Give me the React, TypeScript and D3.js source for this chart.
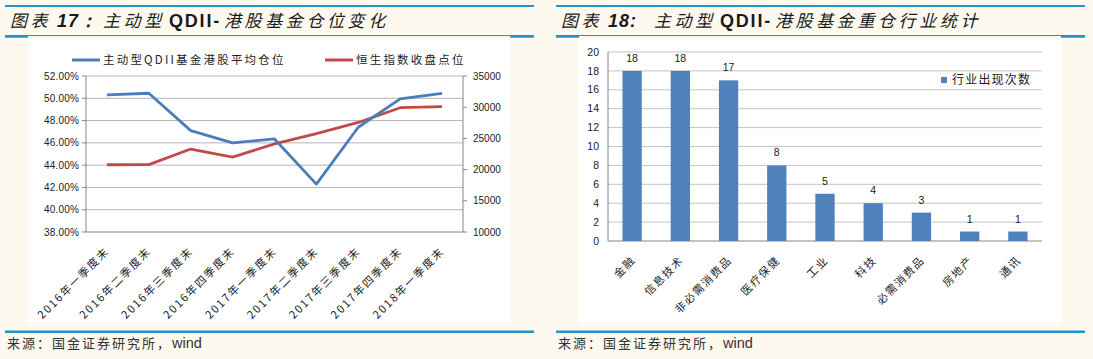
import React, { useEffect, useRef } from 'react';
import * as d3 from 'd3';

// 图表17 data
const quarters = ['2016年一季度末', '2016年二季度末', '2016年三季度末', '2016年四季度末', '2017年一季度末', '2017年二季度末', '2017年三季度末', '2017年四季度末', '2018年一季度末'];
const fundPosition = [50.3, 50.45, 47.1, 46.0, 46.35, 42.3, 47.4, 49.95, 50.45];
const hsiClose = [20776, 20794, 23297, 22001, 24112, 25765, 27555, 29919, 30093];
const positionTicks = [38, 40, 42, 44, 46, 48, 50, 52];
const hsiTicks = [10000, 15000, 20000, 25000, 30000, 35000];
const lineNames = ['主动型QDII基金港股平均仓位', '恒生指数收盘点位'];

// 图表18 data
const industries = ['金融', '信息技术', '非必需消费品', '医疗保健', '工业', '科技', '必需消费品', '房地产', '通讯'];
const industryCounts = [18, 18, 17, 8, 5, 4, 3, 1, 1];
const countTicks = [0, 2, 4, 6, 8, 10, 12, 14, 16, 18, 20];
const barName = '行业出现次数';

const BLUE = '#4a7ebb';
const RED = '#be4b48';
const BAR = '#4f81bd';
const FRAME = '#2394c9';
const AXIS = '#868686';
const GRID = '#b4b4b4';
const CJK = '"Noto Sans CJK SC", sans-serif';
const LATIN = '"Liberation Sans", Arial, sans-serif';

const App = () => {
    const ref = useRef<SVGSVGElement>(null);

    useEffect(() => {
        const svg = d3.select(ref.current);
        svg.selectAll('*').remove();

        svg.append('rect').attr('width', 1093).attr('height', 359).attr('fill', '#fdf9ef');

        // frames: title rules, white panel, bottom rule, source line
        const frame = (dx, srcX) => {
            svg.append('rect').attr('x', 28 + dx).attr('y', 40).attr('width', 482).attr('height', 283).attr('fill', '#fff');
            svg.append('line').attr('x1', 5 + dx).attr('x2', 534 + dx).attr('y1', 6).attr('y2', 6)
                .attr('stroke', FRAME).attr('stroke-width', 2);
            svg.append('line').attr('x1', 5 + dx).attr('x2', 534 + dx).attr('y1', 35.5).attr('y2', 35.5)
                .attr('stroke', FRAME).attr('stroke-width', 1.2);
            [[5, 28], [510, 534]].forEach(([a, b]) => {
                svg.append('line').attr('x1', a + dx).attr('x2', b + dx).attr('y1', 36.5).attr('y2', 36.5)
                    .attr('stroke', FRAME).attr('stroke-width', 2.5);
            });
            svg.append('line').attr('x1', 5 + dx).attr('x2', 534 + dx).attr('y1', 331.8).attr('y2', 331.8)
                .attr('stroke', FRAME).attr('stroke-width', 2.6);
            const src = svg.append('text').attr('x', srcX).attr('y', 348).attr('fill', '#333');
            src.append('tspan').attr('font-family', CJK).attr('font-size', 13).attr('letter-spacing', 2)
                .text('来源：国金证券研究所，');
            src.append('tspan').attr('font-family', LATIN).attr('font-size', 14.5).text('wind');
        };
        frame(0, 7);
        frame(551, 558);

        // titles
        const title = (dx, num, rest) => {
            const t = svg.append('text').attr('y', 27).attr('fill', '#1a1a1a').attr('font-style', 'italic');
            const cjk = (x, s) => t.append('tspan').attr('x', x + dx).attr('font-family', CJK)
                .attr('font-size', 17).attr('letter-spacing', 3.6).text(s);
            cjk(10, '图表');
            t.append('tspan').attr('x', 57 + dx).attr('font-family', LATIN).attr('font-weight', 'bold')
                .attr('font-size', 18).attr('letter-spacing', 1).text(num);
            cjk(103, '主动型');
            t.append('tspan').attr('x', 169 + dx).attr('font-family', LATIN).attr('font-weight', 'bold')
                .attr('font-style', 'normal').attr('font-size', 18).attr('letter-spacing', 1.8).text('QDII-');
            cjk(224, rest);
        };
        title(0, '17：', '港股基金仓位变化');
        title(551, '18:', '港股基金重仓行业统计');

        // ---------- 图表17 ----------
        const x = d3.scaleBand().domain(quarters).range([86, 463]);
        const cx = d => x(d) + x.bandwidth() / 2;
        const yL = d3.scaleLinear().domain([38, 52]).range([232, 76]);
        const yR = d3.scaleLinear().domain([10000, 35000]).range([232, 76]);

        const g1 = svg.append('g');
        positionTicks.forEach(t => {
            g1.append('line').attr('x1', 86).attr('x2', 463).attr('y1', yL(t)).attr('y2', yL(t))
                .attr('stroke', t === 38 ? AXIS : GRID).attr('stroke-width', 1);
            g1.append('line').attr('x1', 82).attr('x2', 86).attr('y1', yL(t)).attr('y2', yL(t)).attr('stroke', AXIS);
            g1.append('text').attr('x', 79).attr('y', yL(t)).attr('dy', '0.35em').attr('text-anchor', 'end')
                .attr('font-family', LATIN).attr('font-size', 10).attr('letter-spacing', 0.2).attr('fill', '#222')
                .text(t.toFixed(2) + '%');
        });
        hsiTicks.forEach(t => {
            g1.append('line').attr('x1', 463).attr('x2', 467).attr('y1', yR(t)).attr('y2', yR(t)).attr('stroke', AXIS);
            g1.append('text').attr('x', 473).attr('y', yR(t)).attr('dy', '0.35em')
                .attr('font-family', LATIN).attr('font-size', 10).attr('fill', '#222').text(t);
        });
        g1.append('line').attr('x1', 86).attr('x2', 86).attr('y1', 76).attr('y2', 232).attr('stroke', AXIS);
        g1.append('line').attr('x1', 463).attr('x2', 463).attr('y1', 76).attr('y2', 232).attr('stroke', AXIS);

        const lineL = d3.line<number>().x((d, i) => cx(quarters[i])).y(d => yL(d));
        const lineR = d3.line<number>().x((d, i) => cx(quarters[i])).y(d => yR(d));
        g1.append('path').attr('d', lineR(hsiClose)).attr('fill', 'none').attr('stroke', RED)
            .attr('stroke-width', 2.8).attr('stroke-linejoin', 'round');
        g1.append('path').attr('d', lineL(fundPosition)).attr('fill', 'none').attr('stroke', BLUE)
            .attr('stroke-width', 2.8).attr('stroke-linejoin', 'round');

        quarters.forEach(q => {
            g1.append('text').attr('transform', `translate(${cx(q) + 3},252) rotate(-45)`)
                .attr('text-anchor', 'end').attr('font-family', CJK).attr('font-size', 11)
                .attr('letter-spacing', 1.8).attr('fill', '#222').text(q);
        });

        // legend
        [[72, 103, BLUE], [325, 356, RED]].forEach(([lx, tx, c], i) => {
            g1.append('line').attr('x1', lx).attr('x2', lx + 28).attr('y1', 60).attr('y2', 60)
                .attr('stroke', c).attr('stroke-width', 3);
            g1.append('text').attr('x', tx).attr('y', 60).attr('dy', '0.36em').attr('font-family', CJK)
                .attr('font-size', 11.5).attr('letter-spacing', 2.2).attr('fill', '#222').text(lineNames[i]);
        });

        // ---------- 图表18 ----------
        const xb = d3.scaleBand().domain(industries).range([608, 1042]).paddingInner(0.6).paddingOuter(0.3);
        const bx = d => xb(d) + xb.bandwidth() / 2;
        const yb = d3.scaleLinear().domain([0, 20]).range([241, 52]);
        const g2 = svg.append('g');

        countTicks.forEach(t => {
            g2.append('line').attr('x1', 608).attr('x2', 1042).attr('y1', yb(t)).attr('y2', yb(t))
                .attr('stroke', t === 0 ? AXIS : '#c4c4c4').attr('stroke-width', 1);
            g2.append('text').attr('x', 599).attr('y', yb(t)).attr('dy', '0.35em').attr('text-anchor', 'end')
                .attr('font-family', LATIN).attr('font-size', 10.5).attr('fill', '#222').text(t);
        });
        g2.append('line').attr('x1', 608).attr('x2', 608).attr('y1', 52).attr('y2', 241).attr('stroke', AXIS);

        g2.selectAll('rect.bar')
            .data(industryCounts)
            .enter()
            .append('rect')
            .attr('class', 'bar')
            .attr('x', (d, i) => xb(industries[i]))
            .attr('y', d => yb(d))
            .attr('width', xb.bandwidth())
            .attr('height', d => yb(0) - yb(d))
            .attr('fill', BAR);

        g2.selectAll('text.val')
            .data(industryCounts)
            .enter()
            .append('text')
            .attr('class', 'val')
            .attr('x', (d, i) => bx(industries[i]))
            .attr('y', d => yb(d) - 9)
            .attr('text-anchor', 'middle')
            .attr('font-family', LATIN).attr('font-size', 10.5).attr('fill', '#1a1a1a')
            .text(d => d);

        industries.forEach(c => {
            g2.append('text').attr('transform', `translate(${bx(c) + 4},261) rotate(-45)`)
                .attr('text-anchor', 'end').attr('font-family', CJK).attr('font-size', 11)
                .attr('letter-spacing', 1.5).attr('fill', '#222').text(c);
        });

        g2.append('rect').attr('x', 941).attr('y', 77).attr('width', 6).attr('height', 6).attr('fill', BAR);
        g2.append('text').attr('x', 952).attr('y', 80).attr('dy', '0.36em').attr('font-family', CJK)
            .attr('font-size', 12).attr('letter-spacing', 1.2).attr('fill', '#1a1a1a').text(barName);
    }, []);

    return (
        <svg ref={ref} width={1093} height={359}
            style={{ position: 'absolute', left: 0, top: 0, display: 'block' }}></svg>
    );
};

export default App;
